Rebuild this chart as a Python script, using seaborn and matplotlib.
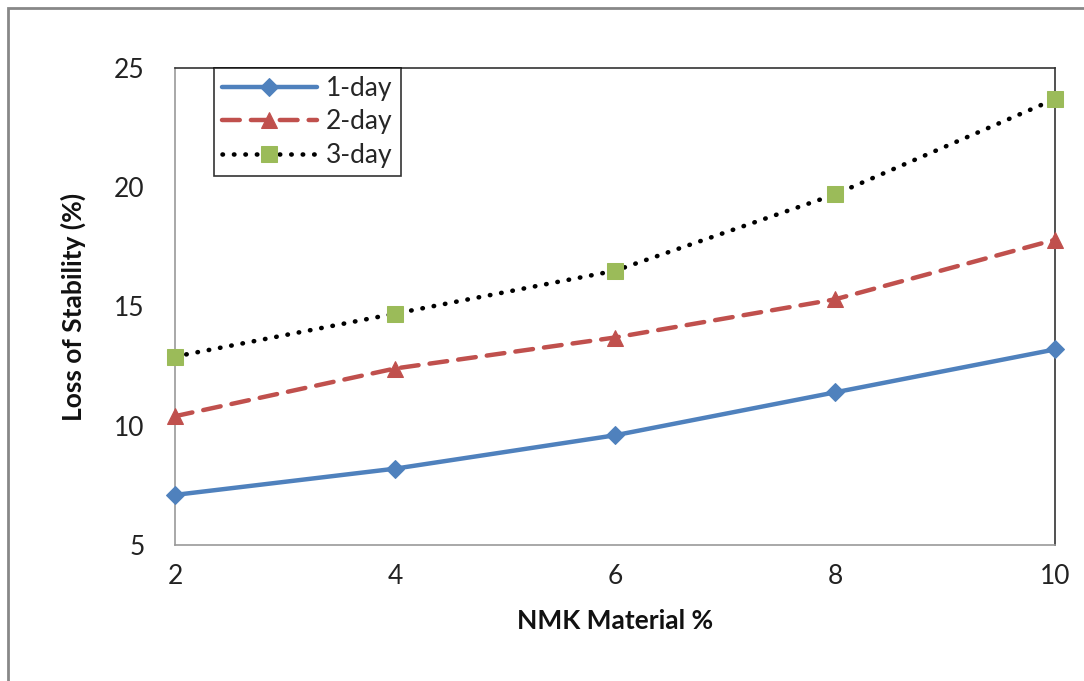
import matplotlib
matplotlib.use("Agg")
import matplotlib.pyplot as plt
import seaborn as sns
import pandas as pd
from matplotlib.patches import Rectangle

nmk = [2, 4, 6, 8, 10]
day1 = [7.1, 8.2, 9.6, 11.4, 13.2]
day2 = [10.4, 12.4, 13.7, 15.3, 17.8]
day3 = [12.9, 14.7, 16.5, 19.7, 23.7]
series_names = ["1-day", "2-day", "3-day"]

df = pd.DataFrame({
    "NMK": nmk * 3,
    "Loss": day1 + day2 + day3,
    "Series": sum([[s] * len(nmk) for s in series_names], []),
})

sns.set_theme(style="white")
plt.rcParams['font.family'] = ['Lato', 'DejaVu Sans']

fig = plt.figure(figsize=(10.84, 6.81), dpi=100)
ax = fig.add_axes([175/1084, 1-545/681, (1055-175)/1084, (545-68)/681])

palette = {"1-day": "#4F81BD", "2-day": "#C0504D", "3-day": "#000000"}
sns.lineplot(data=df, x="NMK", y="Loss", hue="Series", style="Series",
             palette=palette, dashes={"1-day": "", "2-day": (4, 2.5), "3-day": (0.1, 2.4)},
             markers={"1-day": "D", "2-day": "^", "3-day": "s"},
             linewidth=3.2, markersize=10, ax=ax, legend=False, zorder=3)

lines = ax.get_lines()
mcolors = ["#4F81BD", "#C0504D", "#9BBB59"]
msizes = [9, 12, 11]
for ln, mc, ms in zip(lines, mcolors, msizes):
    ln.set_markerfacecolor(mc)
    ln.set_markeredgecolor(mc)
    ln.set_markersize(ms)
    ln.set_dash_capstyle("round")
    ln.set_solid_capstyle("round")
    ln.set_clip_on(False)
lines[2].set_linewidth(3.3)

ax.set_xlim(2, 10)
ax.set_ylim(5, 25)
ax.set_xticks(nmk)
ax.set_yticks([5, 10, 15, 20, 25])
ax.tick_params(axis="both", direction="in", length=7, width=1, color="#888888",
               labelsize=19, colors="#222222", pad=14)
ax.tick_params(axis="y", pad=22)
for side in ["left", "bottom"]:
    ax.spines[side].set_color("#999999")
    ax.spines[side].set_linewidth(1.2)
for side in ["top", "right"]:
    ax.spines[side].set_color("#333333")
    ax.spines[side].set_linewidth(1.2)
    ax.spines[side].set_visible(True)

ax.set_xlabel("NMK Material %", fontsize=19, fontweight="bold", labelpad=14, color="#111111")
ax.set_ylabel("Loss of Stability (%)", fontsize=19, fontweight="bold", labelpad=20, color="#111111")

leg = ax.legend(lines, series_names, loc="upper left", bbox_to_anchor=(39/880, 1.0),
                frameon=True, fancybox=False, fontsize=19, handlelength=3.6,
                borderpad=0.3, labelspacing=0.32, handletextpad=0.35, borderaxespad=0)
leg.get_frame().set_edgecolor("#000000")
leg.get_frame().set_linewidth(1.2)

fig.patches.append(Rectangle((8/1084, -0.05), 1.2, 1 - 8/681 + 0.05, transform=fig.transFigure,
                             fill=False, edgecolor="#888888", linewidth=2))

fig.savefig("out.png", dpi=100)
